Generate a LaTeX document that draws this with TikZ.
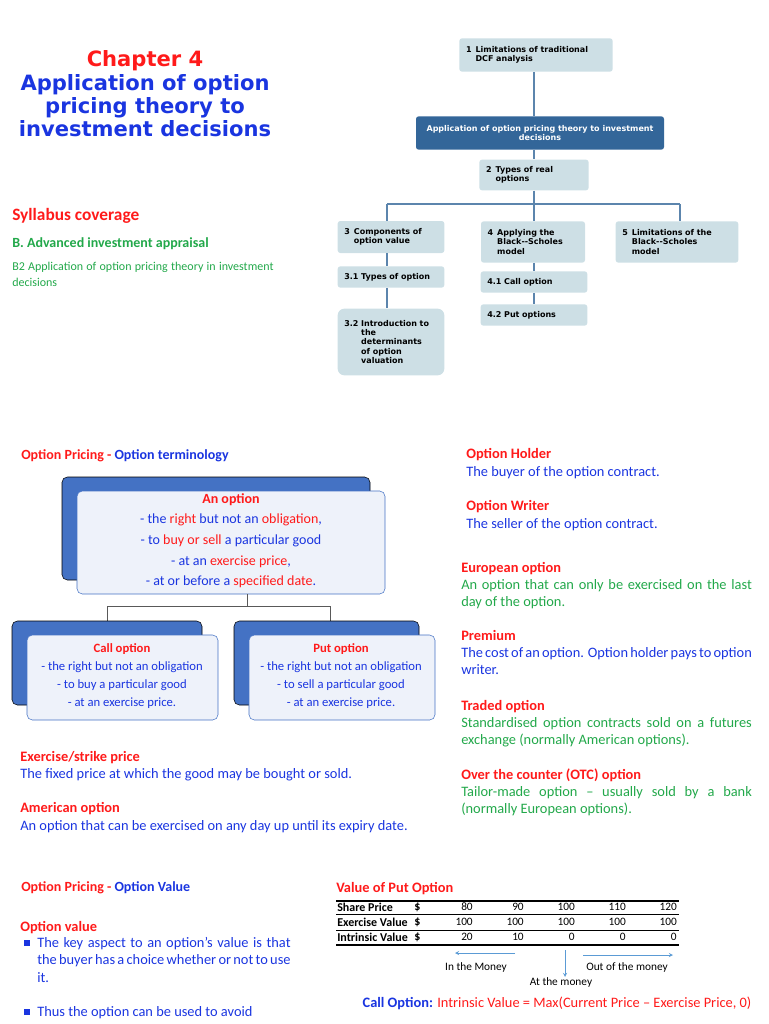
\documentclass[tikz,border=0pt]{standalone}
\usepackage{fontspec}
\setmainfont{Carlito}
\newfontfamily\titlefont{DejaVu Sans}
\usepackage{xcolor}
\definecolor{tred}{HTML}{FF1A1A}
\definecolor{tblue}{HTML}{1A35E0}
\definecolor{tgreen}{HTML}{22A84A}
\definecolor{chartbox}{HTML}{CDDFE5}
\definecolor{chartmain}{HTML}{336699}
\definecolor{backblue}{HTML}{4472C4}
\definecolor{frontfill}{HTML}{EEF2FA}
\definecolor{arrowblue}{HTML}{5B9BD5}
\hyphenpenalty=10000
\tikzset{
  chart/.style={fill=chartbox,rounded corners=2pt,inner xsep=5pt,inner ysep=0pt,font=\titlefont\bfseries\fontsize{6}{7}\selectfont,align=left},
  back/.style={fill=backblue,rounded corners=4pt},
  front/.style={draw=backblue,fill=frontfill,rounded corners=4pt},
  txt/.style={anchor=north west,inner sep=0pt,font=\fontsize{10.8}{13}\selectfont},
  head/.style={txt,text=tred,font=\fontsize{10.8}{13}\selectfont\bfseries},
  small/.style={font=\fontsize{9.5}{13.5}\selectfont,align=center,inner sep=0pt}
}
\begin{document}
\begin{tikzpicture}[x=0.75pt,y=-0.75pt]
\useasboundingbox (0,0) rectangle (768,1024);

% title
\node[inner sep=0pt,align=center,font=\titlefont\bfseries\fontsize{15.8}{17.5}\selectfont] (title) at (145,94)
  {\textcolor{tred}{Chapter 4}\\\textcolor{tblue}{Application of option}\\\textcolor{tblue}{pricing theory to}\\\textcolor{tblue}{investment decisions}};
\node[txt,text=tred,font=\fontsize{13}{15}\selectfont\bfseries] (syl) at (12,208) {Syllabus coverage};
\node[txt,text=tgreen,font=\fontsize{10.5}{12}\selectfont\bfseries] (adv) at (12,237) {B. Advanced investment appraisal};
\node[txt,text=tgreen,font=\fontsize{9}{12}\selectfont,text width=196pt,align=justify] (b2) at (12,262)
  {B2 Application of option pricing theory in investment decisions};

% chart
\node[chart,text width=105pt,minimum height=25pt] (c1) at (536,55) {1\enspace Limitations of traditional\\\phantom{1\enspace}DCF analysis};
\node[chart,fill=chartmain,text=white,minimum width=186pt,minimum height=25pt,align=center] (cm) at (540,133) {Application of option pricing theory to investment\\decisions};
\node[chart,text width=72pt,minimum height=23pt] (c2) at (534,175) {2\enspace Types of real\\\phantom{2\enspace}options};
\node[chart,text width=70pt,minimum height=24pt] (c3) at (391,237) {3\enspace Components of\\\phantom{3\enspace}option value};
\node[chart,text width=68pt,minimum height=31pt] (c4) at (533,242) {4\enspace Applying the\\\phantom{4\enspace}Black--Scholes\\\phantom{4\enspace}model};
\node[chart,text width=82pt,minimum height=31pt] (c5) at (677,242) {5\enspace Limitations of the\\\phantom{5\enspace}Black--Scholes\\\phantom{5\enspace}model};
\node[chart,text width=70pt,minimum height=16pt] (c31) at (391,277) {3.1 Types of option};
\node[chart,text width=70pt,minimum height=16pt] (c41) at (534,282) {4.1 Call option};
\node[chart,text width=70pt,minimum height=16pt] (c42) at (534,315) {4.2 Put options};
\node[chart,text width=70pt,minimum height=50pt,rounded corners=5pt] (c32) at (391,342) {3.2 Introduction to\\\phantom{3.2 }the\\\phantom{3.2 }determinants\\\phantom{3.2 }of option\\\phantom{3.2 }valuation};
\coordinate (hl) at (387,204);
\coordinate (hr) at (680,204);
\begin{scope}[chartmain!80,line width=0.8pt]
\draw (c1.south -| c2) -- (cm.north -| c2);
\draw (cm.south -| c2) -- (c2);
\draw (c2.south) -- (c2.south |- hl);
\draw (hl) -- (hr);
\draw (hl) -- (hl |- c3.north);
\draw (hr) -- (hr |- c5.north);
\draw (c2.south |- hl) -- (c4.north -| c2.south);
\draw (c3.south -| hl) -- (c31.north -| hl);
\draw (c31.south -| hl) -- (c32.north -| hl);
\draw (c4.south -| c2) -- (c41.north -| c2);
\draw (c41.south -| c2) -- (c42.north -| c2);
\end{scope}

% option terminology
\node[txt,font=\fontsize{10.5}{12}\selectfont\bfseries] (ot) at (21,449) {\textcolor{tred}{Option Pricing -} \textcolor{tblue}{Option terminology}};
\draw[back] (62,477) rectangle (370,580);
\draw[front] (77,491) rectangle (385,594);
\node[small,font=\fontsize{10.5}{15.5}\selectfont,text=tblue,anchor=north] (opt) at (231,493)
  {\textcolor{tred}{\bfseries An option}\\- the \textcolor{tred}{right} but not an \textcolor{tred}{obligation},\\- to \textcolor{tred}{buy or sell} a particular good\\- at an \textcolor{tred}{exercise price},\\- at or before a \textcolor{tred}{specified date}.};
\coordinate (opsplit) at (247,606);
\coordinate (cl) at (107,606);
\coordinate (pr) at (330,606);
\draw[gray!70!black] (247,594) -- (opsplit) (cl) -- (pr) (cl) -- (107,621) (pr) -- (330,621);
\draw[back] (12,621) rectangle (202,705);
\draw[front] (27,635) rectangle (218,720);
\draw[back] (234,621) rectangle (419,705);
\draw[front] (249,635) rectangle (435,720);
\node[small,text=tblue,anchor=north] (callbox) at (122,643)
  {\textcolor{tred}{\bfseries Call option}\\- the right but not an obligation\\- to buy a particular good\\- at an exercise price.};
\node[small,text=tblue,anchor=north] (putbox) at (341,643)
  {\textcolor{tred}{\bfseries Put option}\\- the right but not an obligation\\- to sell a particular good\\- at an exercise price.};

\node[head] (ex) at (20,751) {Exercise/strike price};
\node[txt,text=tblue] (ext) at (20,768) {The fixed price at which the good may be bought or sold.};
\node[head] (am) at (20,802) {American option};
\node[txt,text=tblue] (amt) at (20,820) {An option that can be exercised on any day up until its expiry date.};

% right column
\node[head] (oh) at (466,448) {Option Holder};
\node[txt,text=tblue] (oht) at (466,466) {The buyer of the option contract.};
\node[head] (ow) at (466,500) {Option Writer};
\node[txt,text=tblue] (owt) at (466,518) {The seller of the option contract.};
\node[head] (eu) at (461,562) {European option};
\node[txt,text=tgreen,text width=218pt,align=justify] (eut) at (461,579) {An option that can only be exercised on the last day of the option.};
\node[head] (pm) at (461,630) {Premium};
\node[txt,text=tblue,text width=218pt,align=justify] (pmt) at (461,647) {The cost of an option. Option holder pays to option writer.};
\node[head] (tr) at (461,700) {Traded option};
\node[txt,text=tgreen,text width=218pt,align=justify] (trt) at (461,717) {Standardised option contracts sold on a futures exchange (normally American options).};
\node[head] (otc) at (461,769) {Over the counter (OTC) option};
\node[txt,text=tgreen,text width=218pt,align=justify] (otct) at (461,786) {Tailor-made option -- usually sold by a bank (normally European options).};

% option value
\node[txt,font=\fontsize{10.5}{12}\selectfont\bfseries] (ov) at (21,881) {\textcolor{tred}{Option Pricing -} \textcolor{tblue}{Option Value}};
\node[head] (ovh) at (20,921) {Option value};
\node[txt,text=tblue,text width=190pt,align=justify] (b1) at (37,937) {The key aspect to an option's value is that the buyer has a choice whether or not to use it.};
\node[txt,text=tblue,text width=190pt,align=justify] (b2t) at (37,1006) {Thus the option can be used to avoid};
\node[fill=tblue,inner sep=0pt,minimum size=4pt] (sq1) at (27,943) {};
\node[fill=tblue,inner sep=0pt,minimum size=4pt] (sq2) at (27,1012) {};

% table
\node[head] (vp) at (336,882) {Value of Put Option};
\draw[line width=0.9pt] (336,901) -- (679,901);
\draw[line width=0.6pt] (336,914) -- (679,914) (336,930) -- (679,930);
\draw[line width=0.9pt] (336,945) -- (679,945);
\foreach \lab/\yy/\a/\b/\c/\d/\e in {Share Price/907/80/90/100/110/120, Exercise Value/922/100/100/100/100/100, Intrinsic Value/937/20/10/0/0/0}{
  \node[anchor=west,inner sep=0pt,font=\fontsize{9}{10}\selectfont\bfseries] at (337,\yy) {\lab};
  \node[anchor=west,inner sep=0pt,font=\fontsize{9}{10}\selectfont\bfseries] at (414,\yy) {\$};
  \foreach \v/\xx in {\a/473,\b/524,\c/575,\d/626,\e/677}
    \node[anchor=east,inner sep=0pt,font=\fontsize{8.5}{10}\selectfont] at (\xx,\yy) {\v};
}
\node[inner sep=0pt,font=\fontsize{8.5}{10}\selectfont] (itm) at (476,967) {In the Money};
\node[inner sep=0pt,font=\fontsize{8.5}{10}\selectfont] (atm) at (561,982) {At the money};
\node[inner sep=0pt,font=\fontsize{8.5}{10}\selectfont] (otm) at (627,967) {Out of the money};
\coordinate (la) at (515,953);
\coordinate (da) at (565,950);
\coordinate (ra) at (583,955);
\draw[arrowblue,-stealth] (la) -- (455,953);
\draw[arrowblue,-stealth] (da) -- (565,977);
\draw[arrowblue,-stealth] (ra) -- (673,955);
\node[inner sep=0pt,font=\fontsize{10.8}{12}\selectfont] (call) at (557,1003) {\textcolor{tblue}{\bfseries Call Option:} \textcolor{tred}{Intrinsic Value = Max(Current Price -- Exercise Price, 0)}};
\end{tikzpicture}
\end{document}
